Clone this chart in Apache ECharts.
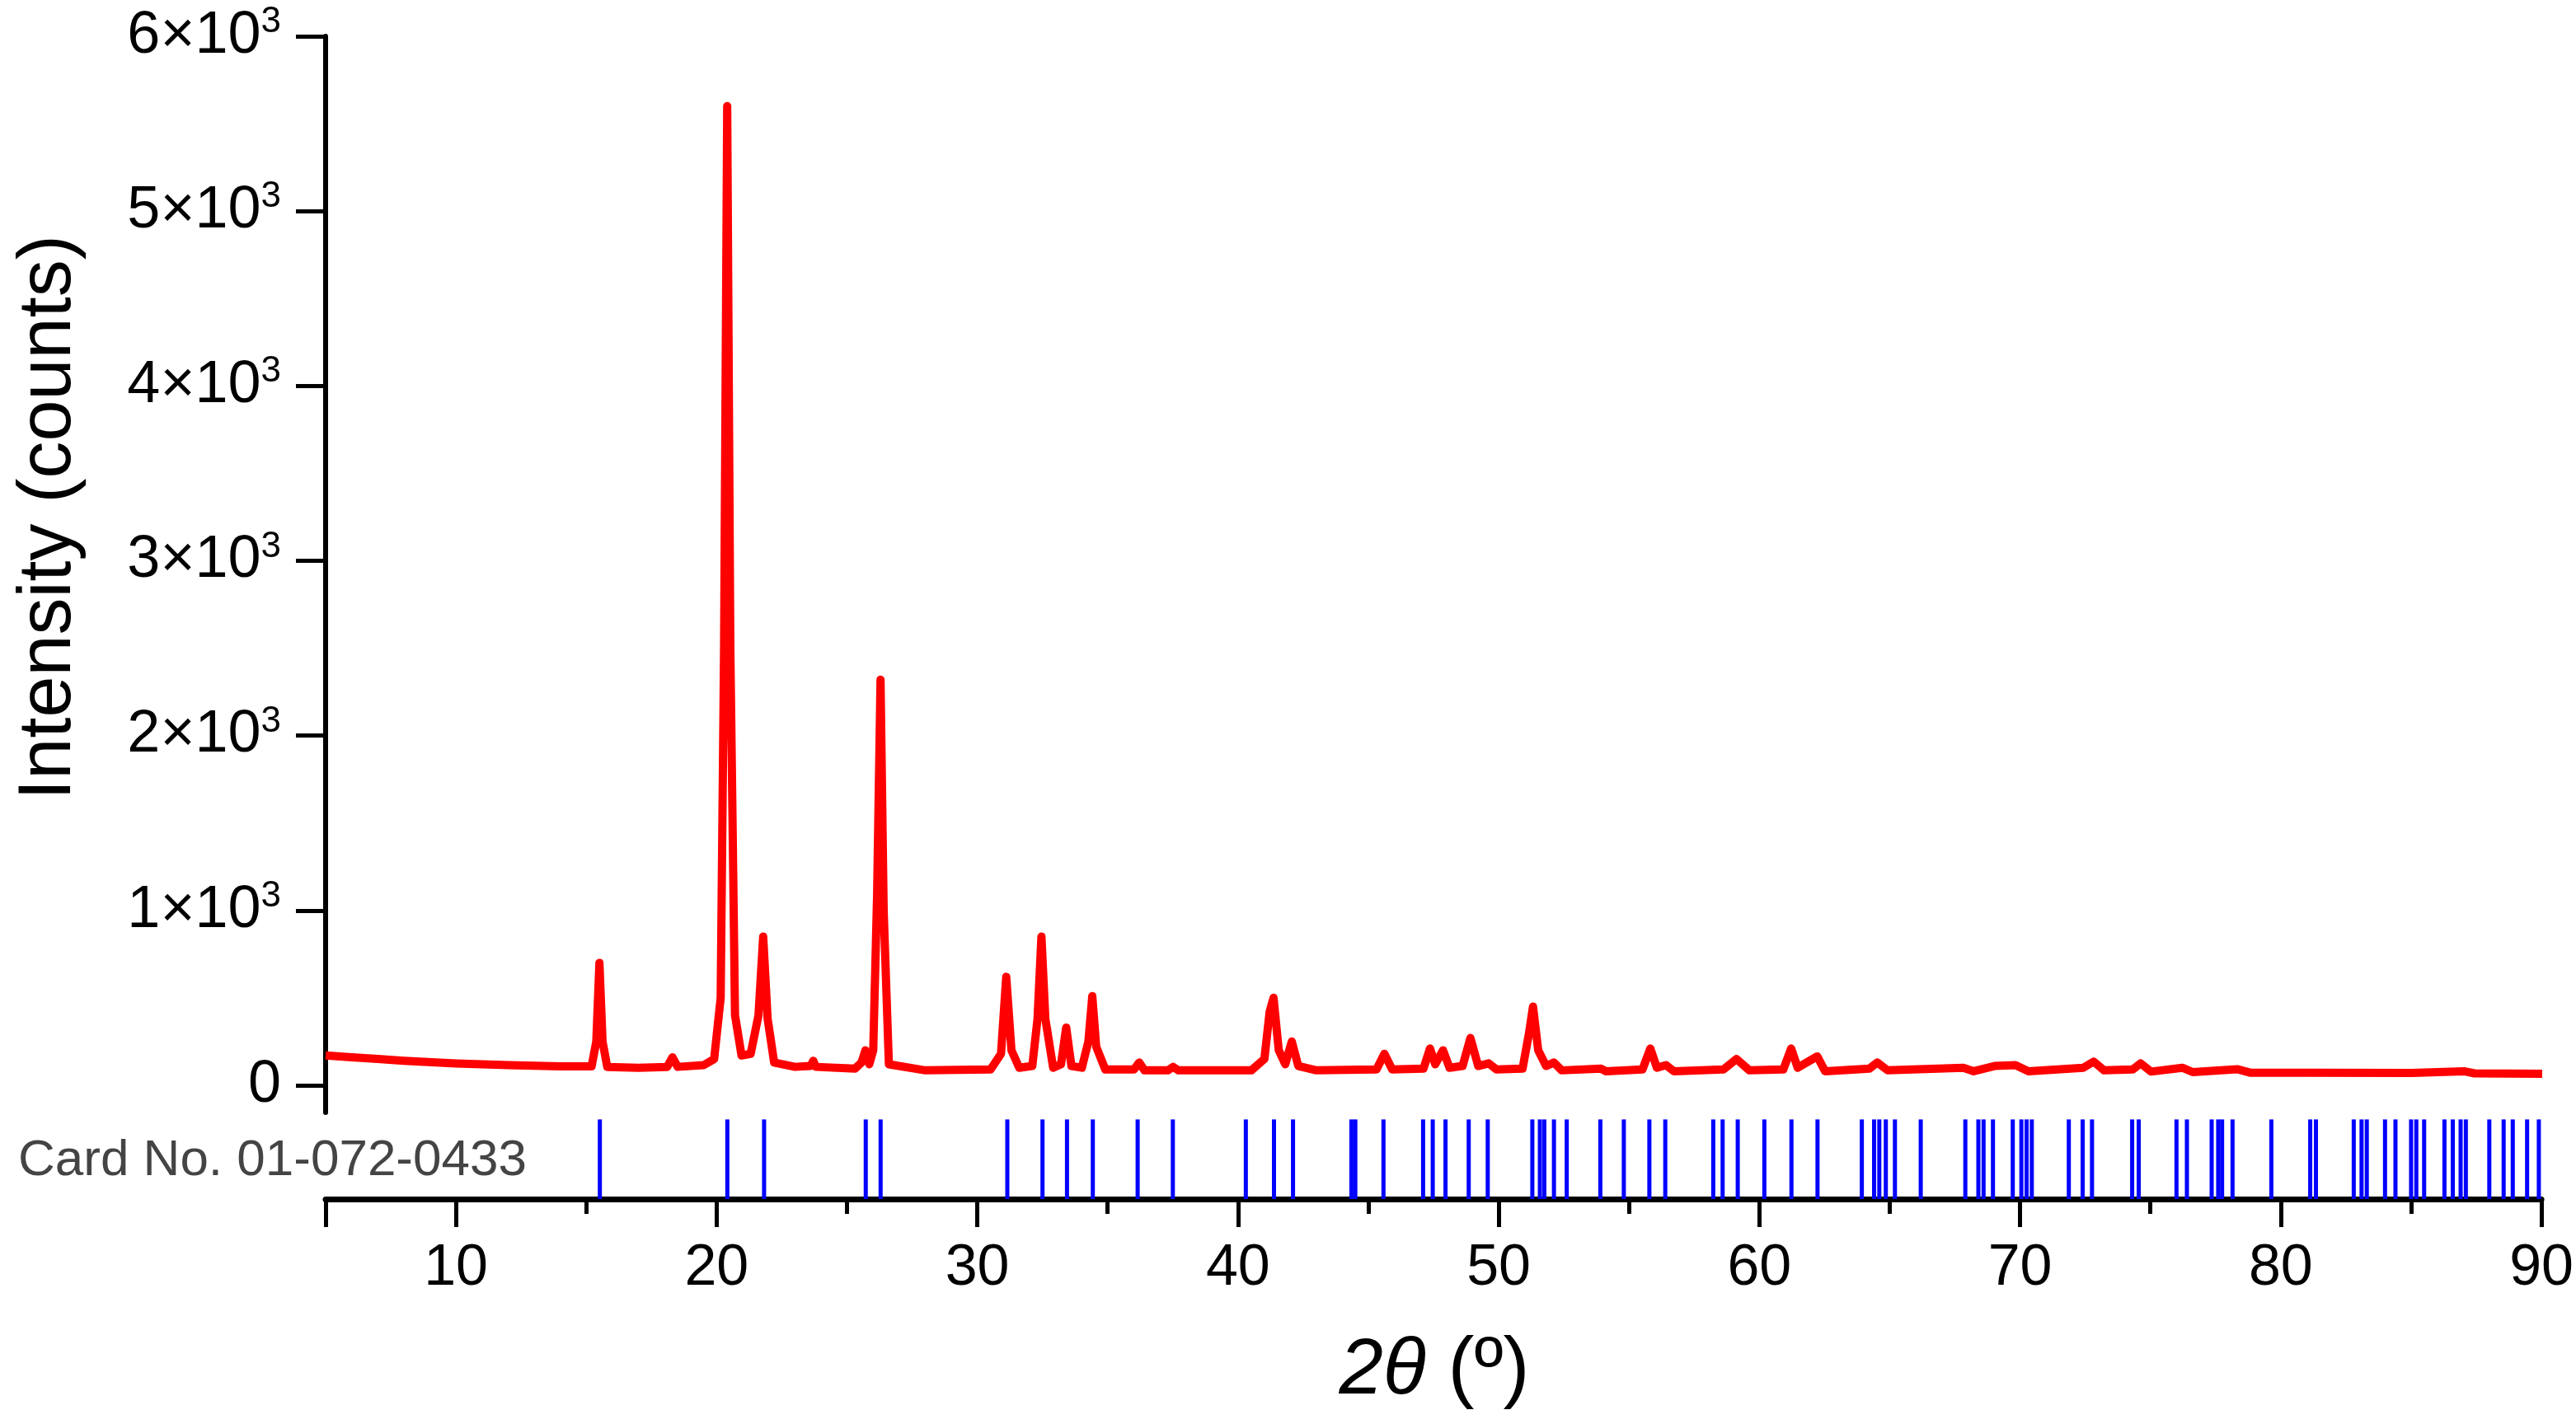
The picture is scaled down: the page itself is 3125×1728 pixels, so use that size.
<!DOCTYPE html>
<html><head><meta charset="utf-8">
<script src="https://cdn.jsdelivr.net/npm/echarts@6/dist/echarts.min.js"></script>
<style>html,body{margin:0;padding:0;background:#fff}#c{width:3125px;height:1728px}</style>
</head><body><div id="c"></div>
<script>
const yTicks = [0,1000,2000,3000,4000,5000,6000];
const xMajorTicks = [10,20,30,40,50,60,70,80,90];
const xMinorTicks = [15,25,35,45,55,65,75,85];
const cardLabel = 'Card No. 01-072-0433';
const pattern = [[5,170],[6,160],[7,150],[8,140],[10,125],[12,115],[14,108],[15.2,108],[15.38,250],[15.5,700],[15.62,250],[15.8,105],[17,100],[18.1,105],[18.3,160],[18.5,105],[19.5,115],[19.9,150],[20.15,500],[20.28,2500],[20.4,5600],[20.52,2500],[20.7,400],[20.95,170],[21.3,180],[21.6,400],[21.78,850],[21.95,380],[22.2,130],[23,105],[23.6,110],[23.7,140],[23.8,105],[25.3,95],[25.55,130],[25.7,200],[25.85,120],[26.0,200],[26.15,1100],[26.28,2320],[26.4,1000],[26.6,120],[28,85],[30.5,90],[30.9,180],[31.1,620],[31.3,200],[31.6,100],[32.1,110],[32.3,380],[32.45,850],[32.6,380],[32.9,100],[33.2,120],[33.4,330],[33.6,110],[34.0,100],[34.25,250],[34.4,510],[34.55,220],[34.9,90],[36.0,90],[36.2,130],[36.4,85],[37.3,85],[37.5,105],[37.7,85],[40.5,85],[41.0,150],[41.2,420],[41.35,500],[41.55,200],[41.8,120],[42.05,250],[42.3,110],[43,85],[45.3,90],[45.6,180],[45.9,90],[47.1,95],[47.35,210],[47.55,120],[47.85,200],[48.1,100],[48.6,110],[48.9,270],[49.2,110],[49.6,125],[49.9,90],[50.9,95],[51.15,300],[51.3,450],[51.5,200],[51.8,110],[52.1,130],[52.4,85],[53.9,95],[54.1,80],[55.5,90],[55.8,210],[56.05,100],[56.4,115],[56.7,80],[58.6,90],[59.1,150],[59.6,85],[60.9,90],[61.2,210],[61.45,100],[62.2,165],[62.5,80],[64.2,95],[64.5,130],[64.9,85],[67.8,100],[68.2,80],[69,110],[69.8,115],[70.3,80],[72.4,100],[72.8,135],[73.2,85],[74.3,90],[74.6,125],[75,78],[76.2,100],[76.6,75],[78.3,92],[78.8,72],[81,72],[85,70],[87,80],[87.4,68],[90,65]];
const cardPositions = [15.52,20.41,21.82,25.72,26.29,31.15,32.5,33.44,34.43,36.15,37.5,40.3,41.38,42.11,44.35,44.5,45.58,47.1,47.47,47.96,48.85,49.58,51.29,51.58,51.75,52.12,52.61,53.9,54.8,55.78,56.39,58.23,58.59,59.17,60.19,61.23,62.23,63.93,64.4,64.6,64.85,65.2,66.19,67.9,68.4,68.6,68.96,69.72,70.05,70.25,70.45,71.87,72.4,72.76,74.3,74.55,76.0,76.4,77.35,77.6,77.75,78.15,79.64,81.13,81.35,82.8,83.1,83.3,84.0,84.4,85.0,85.2,85.5,86.28,86.6,86.9,87.1,88.0,88.55,88.9,89.45,89.9];

const chart = echarts.init(document.getElementById('c'));
const axisColor = '#000';
chart.setOption({
  animation:false,
  grid:[
    {left:395,right:41,top:44,height:1306},
    {left:395,right:41,top:1350,height:105}
  ],
  xAxis:[
    {gridIndex:0,type:'value',min:5,max:90,show:false},
    {gridIndex:1,type:'value',min:5,max:90,position:'bottom',
     axisLine:{show:true,lineStyle:{color:axisColor,width:7}},
     axisTick:{show:true,customValues:[5].concat(xMajorTicks),length:34,lineStyle:{color:axisColor,width:5}},
     axisLabel:{customValues:xMajorTicks,fontSize:70,color:'#000',fontFamily:'Liberation Sans',margin:50},
     splitLine:{show:false}},
    {gridIndex:1,type:'value',min:5,max:90,position:'bottom',
     axisLine:{show:false},
     axisTick:{show:true,customValues:xMinorTicks,length:18,lineStyle:{color:axisColor,width:5}},
     axisLabel:{show:false},splitLine:{show:false}}
  ],
  yAxis:[
    {gridIndex:0,type:'value',min:-156,max:6000,
     axisLine:{show:true,lineStyle:{color:axisColor,width:6}},
     axisTick:{show:true,customValues:yTicks,length:36,lineStyle:{color:axisColor,width:5}},
     axisLabel:{customValues:yTicks,margin:54,color:'#000',fontFamily:'Liberation Sans',
       formatter:v=>v===0?'{n|0}':'{n|'+(v/1000)+'×10}{s|3}',
       rich:{n:{fontSize:72,fontFamily:'Liberation Sans',color:'#000'},s:{fontSize:44,fontFamily:'Liberation Sans',color:'#000',verticalAlign:'top',padding:[0,0,34,0]}}},
     splitLine:{show:false}},
    {gridIndex:1,type:'value',min:0,max:1,show:false}
  ],
  series:[
    {type:'line',xAxisIndex:0,yAxisIndex:0,data:pattern,showSymbol:false,smooth:false,
     lineStyle:{color:'#ff0000',width:10,join:'round'},z:3},
    {type:'bar',xAxisIndex:1,yAxisIndex:1,data:cardPositions.map(p=>[p,0.92]),barWidth:5,barGap:'-100%',
     itemStyle:{color:'#0000ff'}}
  ],
  graphic:[
    {type:'text',left:22,top:1378,style:{text:cardLabel,fontSize:62,fontFamily:'Liberation Sans',fill:'#444'}},
    {type:'text',x:1740,y:1664,style:{text:'{i|2θ}{n| (º)}',align:'center',verticalAlign:'middle',
      rich:{i:{fontSize:96,fontStyle:'italic',fontFamily:'Liberation Sans',fill:'#000'},n:{fontSize:96,fontFamily:'Liberation Sans',fill:'#000'}}}},
    {type:'text',x:60,y:628,rotation:Math.PI/2,style:{text:'Intensity (counts)',align:'center',verticalAlign:'middle',fontSize:90,fontFamily:'Liberation Sans',fill:'#000'}}
  ]
});
</script></body></html>
